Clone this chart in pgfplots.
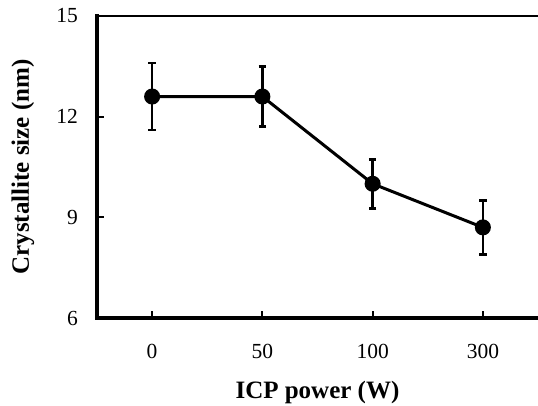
\documentclass[border=0pt]{standalone}
\usepackage{fontspec}
\setmainfont{Liberation Serif}
\usepackage{pgfplots}
\pgfplotsset{compat=1.18}
\begin{document}
\begin{tikzpicture}
\begin{axis}[name=ax, scale only axis, width=441pt, height=302pt,
  xmin=-0.5, xmax=3.5, ymin=6, ymax=15,
  axis x line*=bottom, axis y line*=left,
  axis line style={line width=3.2pt, black, line cap=rect},
  xtick={0,1,2,3}, xticklabels={0,50,100,300},
  ytick={6,9,12}, extra y ticks={15},
  extra y tick style={grid=major, major grid style={line width=2.8pt, black}},
  tick align=inside, major tick length=6.5pt,
  tick style={line width=2pt, black},
  /pgf/number format/assume math mode=true,
  tick label style={font=\fontsize{21.5}{25}\selectfont, inner sep=0pt},
  xticklabel style={anchor=base, yshift=-41pt},
  yticklabel style={anchor=east, xshift=-19pt},
  xlabel={ICP power (W)}, ylabel={Crystallite size (nm)},
  label style={font=\fontsize{25}{30}\selectfont\bfseries},
  xlabel style={at={(axis description cs:0.5,-0.265)}, anchor=base},
  ylabel style={at={(axis description cs:-0.168,0.5)}, anchor=center},
  clip=false]
\addplot[black, line width=3pt, mark=*, mark size=6.5pt,
  error bars/.cd, y dir=both, y explicit,
  error bar style={line width=2.6pt, black},
  error mark options={rotate=90, mark size=3.8pt, line width=2.6pt, black}]
  coordinates {
    (0,12.6) +- (0,1.0)
    (1,12.6) +- (0,0.9)
    (2,10.0) +- (0,0.73)
    (3,8.7)  +- (0,0.8)
  };
\end{axis}
\pgfresetboundingbox
\path[use as bounding box] ([xshift=-97pt,yshift=-88pt]ax.south west) rectangle ([yshift=16pt]ax.north east);
\end{tikzpicture}
\end{document}
